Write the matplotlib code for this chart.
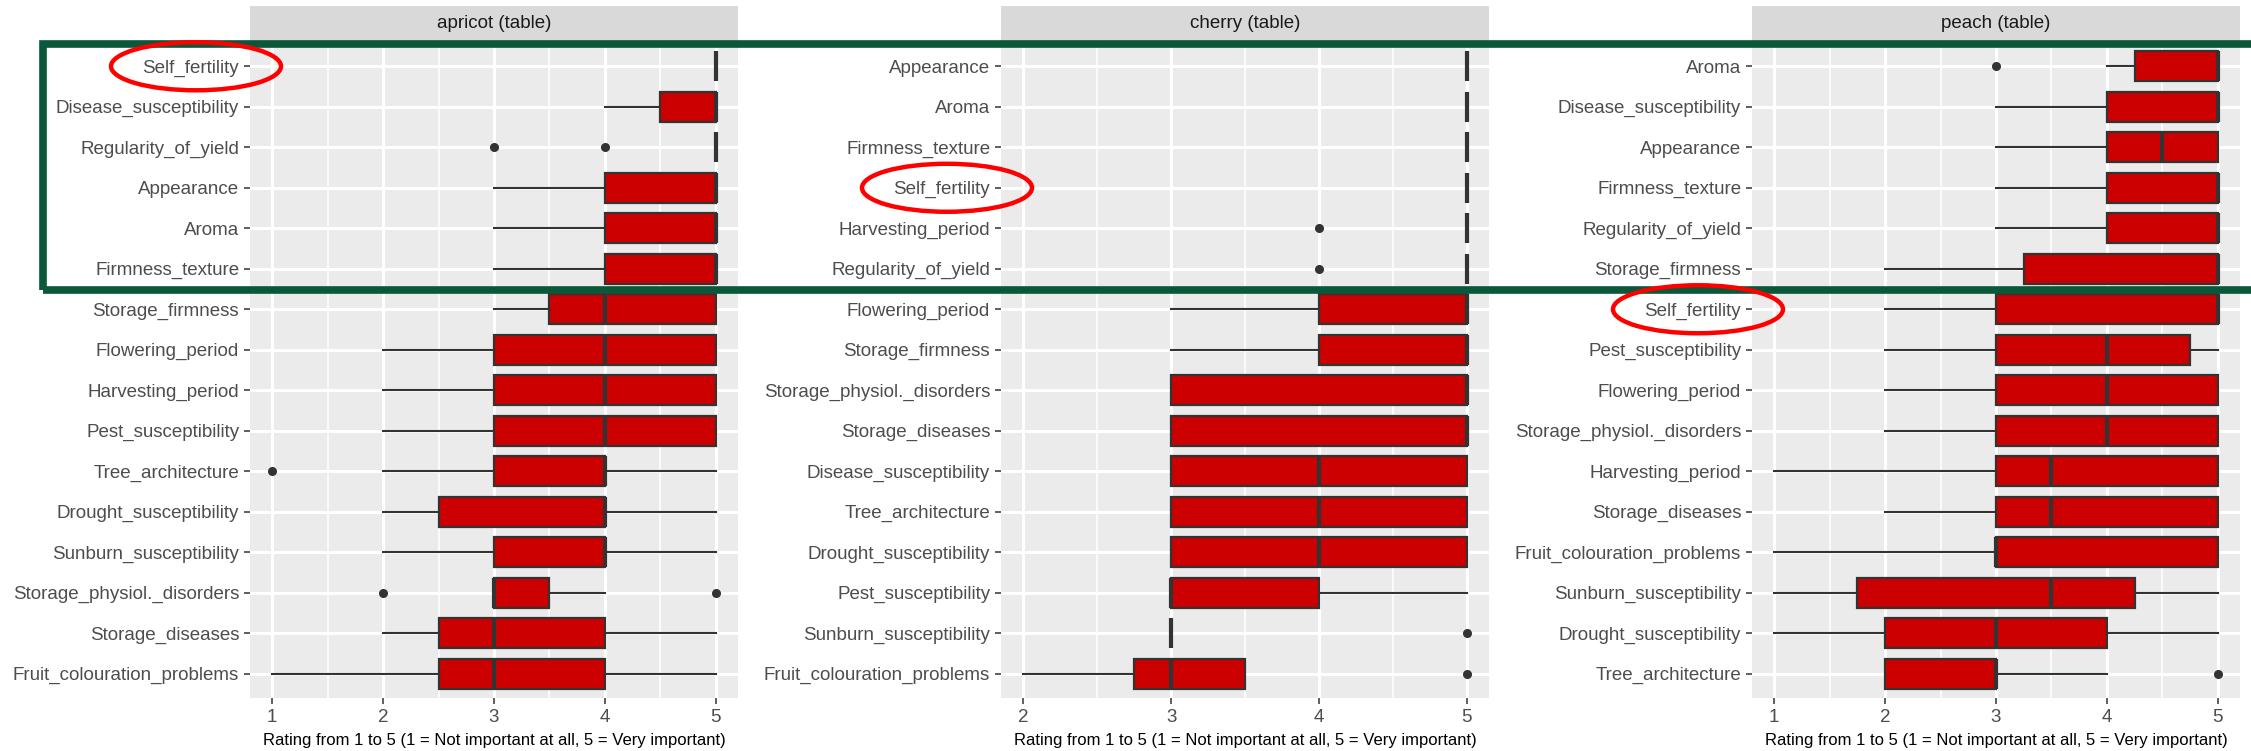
import matplotlib
matplotlib.use("Agg")
import matplotlib.pyplot as plt
from matplotlib.patches import Rectangle, Ellipse

plt.rcParams['font.family'] = ['Liberation Sans', 'DejaVu Sans']

AXIS_TITLE = "Rating from 1 to 5 (1 = Not important at all, 5 = Very important)"

# ---- apricot (rows listed top to bottom) ----
apricot_traits = ["Self_fertility", "Disease_susceptibility", "Regularity_of_yield",
                  "Appearance", "Aroma", "Firmness_texture", "Storage_firmness",
                  "Flowering_period", "Harvesting_period", "Pest_susceptibility",
                  "Tree_architecture", "Drought_susceptibility", "Sunburn_susceptibility",
                  "Storage_physiol._disorders", "Storage_diseases",
                  "Fruit_colouration_problems"]
apricot_low = [5, 4, 5, 3, 3, 3, 3, 2, 2, 2, 2, 2, 2, 3, 2, 1]
apricot_q1 = [5, 4.5, 5, 4, 4, 4, 3.5, 3, 3, 3, 3, 2.5, 3, 3, 2.5, 2.5]
apricot_med = [5, 5, 5, 5, 5, 5, 4, 4, 4, 4, 4, 4, 4, 3, 3, 3]
apricot_q3 = [5, 5, 5, 5, 5, 5, 5, 5, 5, 5, 4, 4, 4, 3.5, 4, 4]
apricot_high = [5, 5, 5, 5, 5, 5, 5, 5, 5, 5, 5, 5, 5, 4, 5, 5]
apricot_out = {"Regularity_of_yield": [3, 4], "Tree_architecture": [1],
               "Storage_physiol._disorders": [2, 5]}

# ---- cherry ----
cherry_traits = ["Appearance", "Aroma", "Firmness_texture", "Self_fertility",
                 "Harvesting_period", "Regularity_of_yield", "Flowering_period",
                 "Storage_firmness", "Storage_physiol._disorders", "Storage_diseases",
                 "Disease_susceptibility", "Tree_architecture", "Drought_susceptibility",
                 "Pest_susceptibility", "Sunburn_susceptibility",
                 "Fruit_colouration_problems"]
cherry_low = [5, 5, 5, 5, 5, 5, 3, 3, 3, 3, 3, 3, 3, 3, 3, 2]
cherry_q1 = [5, 5, 5, 5, 5, 5, 4, 4, 3, 3, 3, 3, 3, 3, 3, 2.75]
cherry_med = [5, 5, 5, 5, 5, 5, 5, 5, 5, 5, 4, 4, 4, 3, 3, 3]
cherry_q3 = [5, 5, 5, 5, 5, 5, 5, 5, 5, 5, 5, 5, 5, 4, 3, 3.5]
cherry_high = [5, 5, 5, 5, 5, 5, 5, 5, 5, 5, 5, 5, 5, 5, 3, 3.5]
cherry_out = {"Harvesting_period": [4], "Regularity_of_yield": [4],
              "Sunburn_susceptibility": [5], "Fruit_colouration_problems": [5]}

# ---- peach ----
peach_traits = ["Aroma", "Disease_susceptibility", "Appearance", "Firmness_texture",
                "Regularity_of_yield", "Storage_firmness", "Self_fertility",
                "Pest_susceptibility", "Flowering_period", "Storage_physiol._disorders",
                "Harvesting_period", "Storage_diseases", "Fruit_colouration_problems",
                "Sunburn_susceptibility", "Drought_susceptibility", "Tree_architecture"]
peach_low = [4, 3, 3, 3, 3, 2, 2, 2, 2, 2, 1, 2, 1, 1, 1, 2]
peach_q1 = [4.25, 4, 4, 4, 4, 3.25, 3, 3, 3, 3, 3, 3, 3, 1.75, 2, 2]
peach_med = [5, 5, 4.5, 5, 5, 5, 5, 4, 4, 4, 3.5, 3.5, 3, 3.5, 3, 3]
peach_q3 = [5, 5, 5, 5, 5, 5, 5, 4.75, 5, 5, 5, 5, 5, 4.25, 4, 3]
peach_high = [5, 5, 5, 5, 5, 5, 5, 5, 5, 5, 5, 5, 5, 5, 5, 4]
peach_out = {"Aroma": [3], "Tree_architecture": [5]}

facets = [
    ("apricot (table)", apricot_traits, apricot_low, apricot_q1, apricot_med,
     apricot_q3, apricot_high, apricot_out, (0.8, 5.2), [1, 2, 3, 4, 5]),
    ("cherry (table)", cherry_traits, cherry_low, cherry_q1, cherry_med,
     cherry_q3, cherry_high, cherry_out, (1.85, 5.15), [2, 3, 4, 5]),
    ("peach (table)", peach_traits, peach_low, peach_q1, peach_med,
     peach_q3, peach_high, peach_out, (0.8, 5.2), [1, 2, 3, 4, 5]),
]

# ---- styling ----
W, H, DPI = 2251, 751, 100
PANEL_BG = "#EBEBEB"
STRIP_BG = "#D9D9D9"
FILL = "#CC0000"
EDGE = "#333333"
TICK_TXT = "#4D4D4D"
FRAME_GREEN = "#0B573A"
RING_RED = "#FF0000"

panel_left = [250, 1001, 1752]
panel_w = 488
panel_top, panel_bottom = 42, 698
strip_top = 6


def fx(px):
    return px / W


def fy(py):
    return 1 - py / H


fig = plt.figure(figsize=(W / DPI, H / DPI), dpi=DPI)
fig.patch.set_facecolor("white")

axes = []
for (title, traits, lo, q1, med, q3, hi, out, xlim, xticks), left in zip(facets, panel_left):
    ax = fig.add_axes([fx(left), fy(panel_bottom), fx(panel_w),
                       (panel_bottom - panel_top) / H])
    ax.set_facecolor(PANEL_BG)
    n = len(traits)
    stats = [dict(label=t, whislo=a, q1=b, med=c, q3=d, whishi=e, fliers=out.get(t, []))
             for t, a, b, c, d, e in zip(traits, lo, q1, med, q3, hi)]
    ax.bxp(stats, positions=list(range(n)), widths=0.75, orientation="horizontal",
           showcaps=False, patch_artist=True, manage_ticks=False,
           boxprops=dict(facecolor=FILL, edgecolor=EDGE, linewidth=1.6),
           medianprops=dict(color=EDGE, linewidth=3.0, solid_capstyle="butt"),
           whiskerprops=dict(color=EDGE, linewidth=1.5),
           flierprops=dict(marker="o", markerfacecolor=EDGE, markeredgecolor=EDGE,
                           markersize=5.5, linestyle="none"))
    ax.set_xlim(*xlim)
    ax.set_ylim(n - 0.4, -0.6)
    ax.set_yticks(range(n))
    ax.set_yticklabels(traits)
    ax.set_xticks(xticks)
    ax.set_xticks([x + 0.5 for x in xticks[:-1]], minor=True)
    ax.set_axisbelow(True)
    ax.grid(axis="x", which="major", color="white", linewidth=2.2)
    ax.grid(axis="x", which="minor", color="white", linewidth=1.1)
    ax.grid(axis="y", which="major", color="white", linewidth=2.2)
    ax.tick_params(axis="both", which="major", length=4.3, width=1.1, color=EDGE,
                   labelcolor=TICK_TXT, labelsize=13.5, pad=3.5)
    ax.tick_params(axis="x", which="minor", length=0)
    for s in ax.spines.values():
        s.set_visible(False)
    ax.set_xlabel(AXIS_TITLE, fontsize=12, color="black", labelpad=5)

    # facet strip
    sax = fig.add_axes([fx(left), fy(panel_top), fx(panel_w), (panel_top - strip_top) / H])
    sax.set_facecolor(STRIP_BG)
    sax.set_xticks([])
    sax.set_yticks([])
    for s in sax.spines.values():
        s.set_visible(False)
    sax.text(0.5, 0.5, title, ha="center", va="center", fontsize=13.5,
             color="#1A1A1A", transform=sax.transAxes)
    axes.append((ax, traits))

# green frame around the top six rows (runs off the right edge)
frame = Rectangle((fx(43), fy(290)), fx(2400 - 43), (290 - 44) / H,
                  transform=fig.transFigure, fill=False, edgecolor=FRAME_GREEN,
                  linewidth=5.5, zorder=10, clip_on=False)
fig.add_artist(frame)

# red rings around the Self_fertility labels
inv = fig.transFigure.inverted()
for (ax, traits), left in zip(axes, panel_left):
    row = traits.index("Self_fertility")
    _, ydisp = ax.transData.transform((ax.get_xlim()[0], row))
    cx = left - 54
    cy = H - ydisp * (H / fig.bbox.height)
    ring = Ellipse((fx(cx), fy(cy)), fx(170), 48 / H, transform=fig.transFigure,
                   fill=False, edgecolor=RING_RED, linewidth=3.2, zorder=11)
    fig.add_artist(ring)

fig.savefig("out.png", dpi=DPI)
